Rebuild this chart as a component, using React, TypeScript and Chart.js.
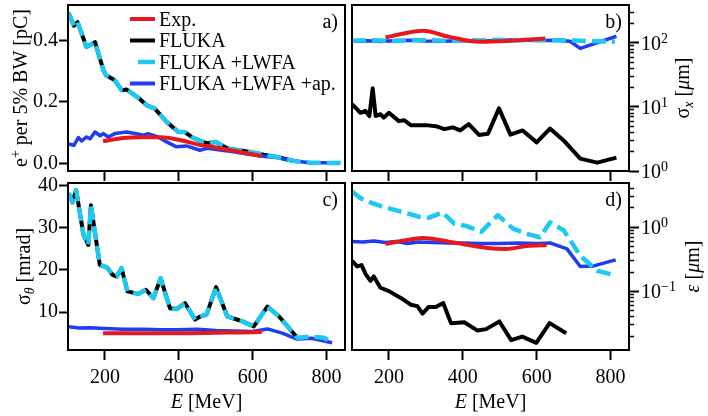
import React, { useEffect, useRef } from "react";
import { Chart, registerables } from "chart.js";

Chart.register(...registerables);

// ---------------- data ----------------
const xTickValues = [200, 400, 600, 800];
const LABELS = ["Exp.", "FLUKA", "FLUKA +LWFA", "FLUKA +LWFA +ap."];

// panel a) e+ per 5% BW [pC]
const aExpE = [195, 250, 300, 350, 400, 450, 500, 550, 600, 625];
const aExpV = [0.072, 0.083, 0.085, 0.085, 0.077, 0.062, 0.052, 0.041, 0.03, 0.024];
const aFlukaE = [101, 116, 126, 150, 173, 196, 203, 227, 245, 259, 290, 313, 335, 367, 399, 416, 435, 459, 477, 500, 531, 594, 630, 666, 711];
const aFlukaV = [0.49, 0.447, 0.459, 0.378, 0.394, 0.303, 0.286, 0.27, 0.238, 0.24, 0.214, 0.189, 0.178, 0.135, 0.102, 0.102, 0.086, 0.072, 0.066, 0.07, 0.049, 0.037, 0.028, 0.021, 0.008];
const aLwfaE = [101, 116, 126, 150, 173, 196, 203, 227, 245, 259, 290, 313, 335, 367, 399, 416, 435, 459, 477, 500, 531, 594, 630, 666, 711, 757, 793, 850];
const aLwfaV = [0.49, 0.447, 0.459, 0.378, 0.394, 0.303, 0.286, 0.27, 0.238, 0.24, 0.214, 0.189, 0.178, 0.135, 0.102, 0.102, 0.086, 0.072, 0.066, 0.07, 0.049, 0.037, 0.028, 0.021, 0.008, 0.002, 0.002, 0.001];
const aApE = [101, 116, 128, 137, 150, 160, 173, 187, 196, 209, 227, 259, 281, 304, 317, 344, 367, 394, 421, 457, 477, 548, 594, 639, 666, 711, 757, 793, 820];
const aApV = [0.063, 0.059, 0.084, 0.073, 0.086, 0.08, 0.102, 0.09, 0.097, 0.086, 0.097, 0.102, 0.097, 0.092, 0.097, 0.086, 0.07, 0.054, 0.057, 0.043, 0.049, 0.038, 0.029, 0.022, 0.019, 0.008, 0.002, 0.002, 0.001];

// panel b) sigma_x [um]
const bExpE = [191, 240, 291, 364, 445, 518, 570, 623];
const bExpV = [121, 140, 154, 124, 104, 107, 112, 117];
const bFlukaE = [100, 123, 136, 147, 156, 164, 177, 186, 200, 227, 241, 259, 300, 327, 350, 373, 393, 416, 444, 468, 498, 529, 562, 600, 636, 673, 718, 764, 816];
const bFlukaV = [11.0, 8.1, 8.7, 7.2, 19.6, 7.2, 7.7, 6.8, 8.1, 6.0, 6.2, 5.2, 5.2, 5.0, 4.5, 4.8, 4.3, 5.4, 3.65, 3.8, 9.5, 3.7, 4.3, 2.8, 4.6, 3.0, 1.56, 1.35, 1.62];
const bLwfaE = [100, 150, 200, 250, 300, 350, 400, 450, 500, 550, 600, 650, 700, 750, 812];
const bLwfaV = [108, 110, 107, 109, 111, 108, 110, 109, 112, 110, 111, 110, 109, 106, 104];
const bApE = [100, 140, 180, 220, 260, 300, 350, 400, 450, 500, 550, 600, 650, 690, 718, 816];
const bApV = [106, 108, 105, 109, 110, 107, 106, 109, 106, 110, 112, 109, 110, 106, 82, 127];

// panel c) sigma_theta [mrad]
const cExpE = [195, 300, 400, 500, 600, 625];
const cExpV = [5.0, 5.0, 5.0, 5.1, 5.2, 5.3];
const cFlukaE = [102, 112, 122, 142, 155, 162, 186, 205, 221, 232, 245, 261, 290, 311, 331, 351, 376, 394, 417, 444, 459, 475, 501, 531, 572, 603, 640, 671, 721];
const cFlukaV = [38.2, 36.0, 38.9, 28.3, 25.9, 35.3, 21.2, 20.6, 18.8, 18.4, 20.4, 14.9, 14.3, 15.3, 13.3, 18.0, 10.9, 10.7, 12.1, 8.2, 9.0, 9.4, 15.9, 9.0, 7.8, 6.6, 11.3, 9.0, 3.9];
const cLwfaE = [102, 112, 122, 142, 155, 162, 186, 205, 221, 232, 245, 261, 290, 311, 331, 351, 376, 394, 417, 444, 459, 475, 501, 531, 572, 603, 640, 671, 721, 757, 793, 815];
const cLwfaV = [38.2, 36.0, 38.9, 28.3, 25.9, 35.3, 21.2, 20.6, 18.8, 18.4, 20.4, 14.9, 14.3, 15.3, 13.3, 18.0, 10.9, 10.7, 12.1, 8.2, 9.0, 9.4, 15.9, 9.0, 7.8, 6.6, 11.3, 9.0, 3.9, 4.2, 3.9, 2.8];
const cApE = [102, 130, 160, 200, 250, 300, 350, 400, 450, 500, 550, 600, 640, 680, 720, 760, 815];
const cApV = [6.5, 6.2, 6.3, 6.1, 5.9, 5.9, 5.8, 5.8, 5.9, 5.6, 5.5, 5.4, 6.0, 5.0, 3.6, 3.8, 2.7];

// panel d) epsilon [um]
const dExpE = [191, 240, 291, 382, 473, 518, 573, 627];
const dExpV = [0.55, 0.62, 0.68, 0.57, 0.47, 0.46, 0.51, 0.53];
const dFlukaE = [100, 114, 126, 137, 150, 159, 177, 200, 232, 259, 277, 291, 307, 327, 347, 368, 404, 440, 463, 499, 531, 561, 599, 635, 680];
const dFlukaV = [0.3, 0.245, 0.257, 0.186, 0.146, 0.171, 0.114, 0.101, 0.079, 0.062, 0.059, 0.045, 0.057, 0.057, 0.066, 0.032, 0.033, 0.0245, 0.0258, 0.034, 0.0174, 0.0197, 0.0158, 0.032, 0.0223];
const dLwfaE = [100, 125, 155, 182, 232, 282, 309, 345, 377, 409, 450, 495, 536, 573, 609, 636, 673, 718, 764, 809];
const dLwfaV = [3.6, 2.8, 2.37, 2.1, 1.75, 1.46, 1.41, 1.71, 1.14, 1.05, 0.85, 1.55, 0.95, 0.79, 0.7, 1.19, 0.9, 0.36, 0.21, 0.18];
const dApE = [100, 130, 160, 190, 220, 250, 280, 320, 360, 400, 450, 500, 550, 600, 636, 682, 718, 754, 814];
const dApV = [0.6, 0.59, 0.61, 0.58, 0.6, 0.56, 0.59, 0.58, 0.57, 0.57, 0.56, 0.56, 0.57, 0.56, 0.57, 0.46, 0.245, 0.25, 0.31];

// axis ticks
const aYTicks = [0, 0.2, 0.4];
const bYTicks = [1, 10, 100];
const bYMinor = [2, 3, 4, 5, 6, 7, 8, 9, 20, 30, 40, 50, 60, 70, 80, 90, 200, 300];
const cYTicks = [10, 20, 30, 40];
const dYTicks = [0.1, 1];
const dYMinor = [0.02, 0.03, 0.04, 0.05, 0.06, 0.07, 0.08, 0.09, 0.2, 0.3, 0.4, 0.5, 0.6, 0.7, 0.8, 0.9, 2, 3, 4];

// ---------------- styling ----------------
const FONT = '"Liberation Serif", "DejaVu Serif", "Times New Roman", serif';
const COL = { exp: "#e5191d", fluka: "#000000", lwfa: "#1ec8f0", ap: "#1f3cf0" };

type Part = { t: string; it?: boolean; sub?: boolean; sup?: boolean };

function partFont(p: Part) {
  const size = p.sub || p.sup ? 14 : 20;
  return `${p.it ? "italic " : ""}${size}px ${FONT}`;
}

function drawRich(ctx: CanvasRenderingContext2D, parts: Part[], x: number, y: number, align: "left" | "center" | "right") {
  let total = 0;
  const widths = parts.map((p) => {
    ctx.font = partFont(p);
    const w = ctx.measureText(p.t).width;
    total += w;
    return w;
  });
  let cx = align === "center" ? x - total / 2 : align === "right" ? x - total : x;
  ctx.textAlign = "left";
  ctx.textBaseline = "alphabetic";
  parts.forEach((p, i) => {
    ctx.font = partFont(p);
    const dy = p.sub ? 4 : p.sup ? -7 : 0;
    ctx.fillText(p.t, cx, y + dy);
    cx += widths[i];
  });
}

type Series = [number[], number[]];
type PanelSpec = {
  id: string;
  left: number;
  top: number;
  width: number;
  height: number;
  padding: { top: number; left: number; right: number; bottom: number };
  xLabels: boolean;
  xHeight: number;
  side: "left" | "right";
  yMin: number;
  yMax: number;
  yTicks: number[];
  yMinor?: number[];
  yFormat?: (v: number) => string;
  letter: string;
  yTitle: Part[];
  yTitleOffset: number;
  xTitle: boolean;
  legend: boolean;
  exp: Series;
  fluka: Series;
  lwfa: Series;
  ap: Series;
};

function mk(label: string, s: Series, color: string, width: number, dash: number[], order: number, smooth = false) {
  const [E, V] = s;
  return {
    label,
    data: E.map((x, i) => ({ x, y: V[i] })),
    borderColor: color,
    backgroundColor: color,
    borderWidth: width,
    borderDash: dash,
    order,
    pointRadius: 0,
    pointHoverRadius: 0,
    fill: false,
    tension: smooth ? 0.4 : 0,
    cubicInterpolationMode: smooth ? "monotone" : "default",
    borderJoinStyle: "round",
    borderCapStyle: "butt",
  };
}

function buildConfig(s: PanelSpec): any {
  const datasets = [
    mk(LABELS[0], s.exp, COL.exp, 4, [], 0, true),
    mk(LABELS[1], s.fluka, COL.fluka, 4, [], 3),
    mk(LABELS[2], s.lwfa, COL.lwfa, 4.5, [14, 6], 1),
    mk(LABELS[3], s.ap, COL.ap, 3.5, [], 2),
  ];

  const tickFont = { family: FONT, size: 20 };
  const scales: any = {
    x: {
      type: "linear",
      min: 100,
      max: 850,
      bounds: "data",
      afterBuildTicks: (sc: any) => {
        sc.ticks = xTickValues.map((v) => ({ value: v }));
      },
      afterFit: (sc: any) => {
        sc.height = s.xHeight;
        sc.paddingLeft = 0;
        sc.paddingRight = 0;
      },
      grid: { drawOnChartArea: false, drawTicks: true, tickLength: 10, tickWidth: 2, tickColor: "#000" },
      border: { display: false },
      ticks: {
        display: s.xLabels,
        color: "#000",
        font: tickFont,
        padding: 6,
        maxRotation: 0,
        autoSkip: false,
        callback: (v: any) => String(v),
      },
    },
  };

  if (s.side === "left") {
    scales.y = {
      type: "linear",
      position: "left",
      min: s.yMin,
      max: s.yMax,
      bounds: "data",
      afterBuildTicks: (sc: any) => {
        sc.ticks = s.yTicks.map((v) => ({ value: v }));
      },
      afterFit: (sc: any) => {
        sc.width = 68;
        sc.paddingTop = 0;
        sc.paddingBottom = 0;
      },
      grid: { drawOnChartArea: false, drawTicks: true, tickLength: 9, tickWidth: 2, tickColor: "#000" },
      border: { display: false },
      ticks: {
        color: "#000",
        font: tickFont,
        padding: 1,
        autoSkip: false,
        callback: (v: any) => (s.yFormat ? s.yFormat(Number(v)) : String(v)),
      },
    };
  } else {
    scales.y = {
      type: "logarithmic",
      position: "right",
      weight: 1,
      min: s.yMin,
      max: s.yMax,
      bounds: "data",
      afterBuildTicks: (sc: any) => {
        sc.ticks = s.yTicks.map((v) => ({ value: v }));
      },
      afterFit: (sc: any) => {
        sc.width = 79;
        sc.paddingTop = 0;
        sc.paddingBottom = 0;
      },
      grid: { drawOnChartArea: false, drawTicks: true, tickLength: 10, tickWidth: 2, tickColor: "#000" },
      border: { display: false },
      ticks: { display: false },
    };
    scales.yMinor = {
      type: "logarithmic",
      position: "right",
      weight: 0,
      min: s.yMin,
      max: s.yMax,
      bounds: "data",
      afterBuildTicks: (sc: any) => {
        sc.ticks = (s.yMinor || []).map((v) => ({ value: v }));
      },
      afterFit: (sc: any) => {
        sc.width = 0;
        sc.paddingTop = 0;
        sc.paddingBottom = 0;
      },
      grid: { drawOnChartArea: false, drawTicks: true, tickLength: 5, tickWidth: 1.5, tickColor: "#000" },
      border: { display: false },
      ticks: { display: false },
    };
  }

  const decor = {
    id: "decor_" + s.id,
    afterDraw(chart: any) {
      const ctx: CanvasRenderingContext2D = chart.ctx;
      const a = chart.chartArea;
      ctx.save();
      // frame
      ctx.strokeStyle = "#000";
      ctx.lineWidth = 2;
      ctx.setLineDash([]);
      ctx.strokeRect(a.left, a.top, a.right - a.left, a.bottom - a.top);
      ctx.fillStyle = "#000";
      // panel letter
      drawRich(ctx, [{ t: s.letter }], a.right - 7, a.top + 23, "right");
      // log tick labels
      if (s.side === "right") {
        const ys = chart.scales.y;
        s.yTicks.forEach((v) => {
          const py = ys.getPixelForValue(v);
          const ex = Math.round(Math.log10(v));
          const exs = ex < 0 ? "\u2212" + String(-ex) : String(ex);
          drawRich(ctx, [{ t: "10" }, { t: exs, sup: true }], a.right + 12, py + 7, "left");
        });
      }
      // y title (rotated, reads bottom to top)
      const cy = (a.top + a.bottom) / 2;
      const tx = s.side === "left" ? a.left - s.yTitleOffset : a.right + s.yTitleOffset;
      ctx.save();
      ctx.translate(tx, cy);
      ctx.rotate(-Math.PI / 2);
      drawRich(ctx, s.yTitle, 0, 0, "center");
      ctx.restore();
      // x title
      if (s.xTitle) {
        drawRich(ctx, [{ t: "E", it: true }, { t: " [MeV]" }], (a.left + a.right) / 2, a.bottom + 58, "center");
      }
      // legend
      if (s.legend) {
        const items = [
          { c: COL.exp, w: 4, dash: [] as number[], off: 0 },
          { c: COL.fluka, w: 4, dash: [] as number[], off: 0 },
          { c: COL.lwfa, w: 4.5, dash: [17, 8], off: 17 },
          { c: COL.ap, w: 4, dash: [] as number[], off: 0 },
        ];
        items.forEach((it, i) => {
          const y = a.top + 14 + i * 21.5;
          ctx.save();
          ctx.beginPath();
          ctx.strokeStyle = it.c;
          ctx.lineWidth = it.w;
          ctx.setLineDash(it.dash);
          ctx.lineDashOffset = it.off;
          ctx.moveTo(a.left + 62, y);
          ctx.lineTo(a.left + 87, y);
          ctx.stroke();
          ctx.restore();
          ctx.fillStyle = "#000";
          drawRich(ctx, [{ t: LABELS[i] }], a.left + 91, y + 6.75, "left");
        });
      }
      ctx.restore();
    },
  };

  return {
    type: "line",
    data: { datasets },
    options: {
      responsive: false,
      maintainAspectRatio: false,
      animation: false,
      devicePixelRatio: 1,
      layout: { padding: s.padding },
      plugins: { legend: { display: false }, tooltip: { enabled: false }, title: { display: false } },
      scales,
    },
    plugins: [decor],
  };
}

const PANELS: PanelSpec[] = [
  {
    id: "a",
    left: 0,
    top: 0,
    width: 350,
    height: 182,
    padding: { top: 5, left: 0, right: 5, bottom: 0 },
    xLabels: false,
    xHeight: 11,
    side: "left",
    yMin: -0.0245,
    yMax: 0.5145,
    yTicks: aYTicks,
    yFormat: (v) => v.toFixed(1),
    letter: "a)",
    yTitle: [{ t: "e" }, { t: "+", sup: true }, { t: " per 5% BW [pC]" }],
    yTitleOffset: 41.5,
    xTitle: false,
    legend: true,
    exp: [aExpE, aExpV],
    fluka: [aFlukaE, aFlukaV],
    lwfa: [aLwfaE, aLwfaV],
    ap: [aApE, aApV],
  },
  {
    id: "b",
    left: 350,
    top: 0,
    width: 358,
    height: 182,
    padding: { top: 5, left: 2, right: 0, bottom: 0 },
    xLabels: false,
    xHeight: 11,
    side: "right",
    yMin: 1,
    yMax: 390,
    yTicks: bYTicks,
    yMinor: bYMinor,
    letter: "b)",
    yTitle: [{ t: "σ" }, { t: "x", sub: true, it: true }, { t: " [" }, { t: "μ", it: true }, { t: "m]" }],
    yTitleOffset: 60,
    xTitle: false,
    legend: false,
    exp: [bExpE, bExpV],
    fluka: [bFlukaE, bFlukaV],
    lwfa: [bLwfaE, bLwfaV],
    ap: [bApE, bApV],
  },
  {
    id: "c",
    left: 0,
    top: 172,
    width: 350,
    height: 244,
    padding: { top: 11, left: 0, right: 5, bottom: 0 },
    xLabels: true,
    xHeight: 66,
    side: "left",
    yMin: 1.0,
    yMax: 40.6,
    yTicks: cYTicks,
    yFormat: (v) => String(v),
    letter: "c)",
    yTitle: [{ t: "σ" }, { t: "θ", sub: true, it: true }, { t: " [mrad]" }],
    yTitleOffset: 38.5,
    xTitle: true,
    legend: false,
    exp: [cExpE, cExpV],
    fluka: [cFlukaE, cFlukaV],
    lwfa: [cLwfaE, cLwfaV],
    ap: [cApE, cApV],
  },
  {
    id: "d",
    left: 350,
    top: 172,
    width: 358,
    height: 244,
    padding: { top: 11, left: 2, right: 0, bottom: 0 },
    xLabels: true,
    xHeight: 66,
    side: "right",
    yMin: 0.0122,
    yMax: 4.9,
    yTicks: dYTicks,
    yMinor: dYMinor,
    letter: "d)",
    yTitle: [{ t: "ε", it: true }, { t: " [" }, { t: "μ", it: true }, { t: "m]" }],
    yTitleOffset: 70,
    xTitle: true,
    legend: false,
    exp: [dExpE, dExpV],
    fluka: [dFlukaE, dFlukaV],
    lwfa: [dLwfaE, dLwfaV],
    ap: [dApE, dApV],
  },
];

function Panel({ spec }: { spec: PanelSpec }) {
  const ref = useRef<HTMLCanvasElement | null>(null);
  useEffect(() => {
    if (!ref.current) return;
    const chart = new Chart(ref.current, buildConfig(spec));
    return () => chart.destroy();
  }, [spec]);
  return (
    <canvas
      ref={ref}
      width={spec.width}
      height={spec.height}
      style={{ position: "absolute", left: spec.left, top: spec.top, width: spec.width, height: spec.height }}
    />
  );
}

export default function App() {
  return (
    <div style={{ position: "absolute", left: 0, top: 0, width: 708, height: 416, background: "#fff", overflow: "hidden" }}>
      {PANELS.map((p) => (
        <Panel key={p.id} spec={p} />
      ))}
    </div>
  );
}
